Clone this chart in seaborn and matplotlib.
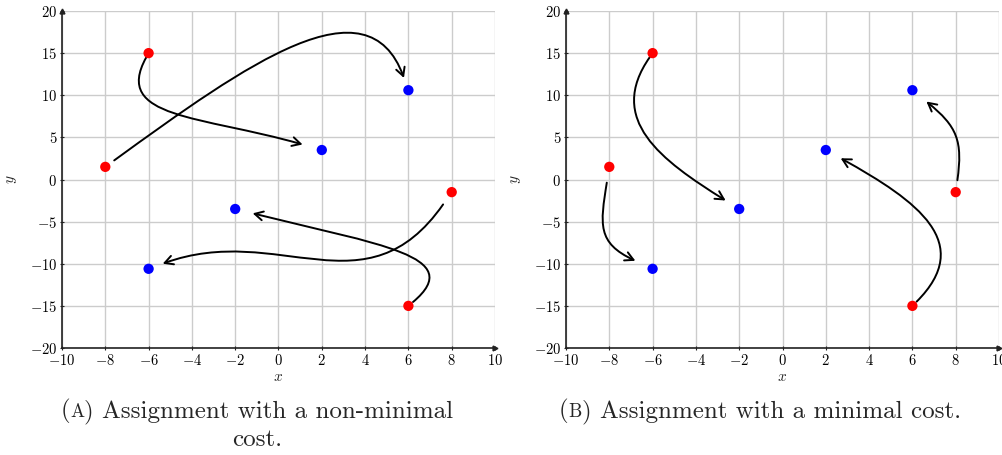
import numpy as np
import matplotlib
matplotlib.use("Agg")
import matplotlib.pyplot as plt
import seaborn as sns
import pandas as pd
from matplotlib.path import Path
from matplotlib.patches import FancyArrowPatch
from matplotlib.ticker import FuncFormatter, MultipleLocator
from matplotlib.offsetbox import TextArea, HPacker, AnchoredOffsetbox

# ---- data ----
red_x = [-8, -6, 6, 8]
red_y = [1.5, 15, -15, -1.5]
blue_x = [-6, -2, 2, 6]
blue_y = [-10.6, -3.5, 3.5, 10.6]
# assignment: (red index, blue index)
assign_a = [(0, 3), (1, 2), (3, 0), (2, 1)]
assign_b = [(0, 0), (1, 1), (2, 2), (3, 3)]
# curve styles like TikZ "to[out,in,looseness]": (out, in, loose_out, loose_in, gap_start, gap_end)
style_a = [(36, 110, 1.4, 0.9, 11, 13),
           (241, 164, 1.0, 1.5, 5, 20),
           (235, 20, 1.2, 1.1, 15, 15),
           (40, -14, 1.0, 1.8, 6, 18)]
style_b = [(261, 155, 1.3, 1.3, 16, 19),
           (235, 148, 1.2, 1.2, 5, 16),
           (45, -29, 1.3, 1.4, 6, 17),
           (82, -39, 1.2, 1.2, 12, 18)]
caption_a = ["Assignment with a non-minimal", "cost."]
caption_b = ["Assignment with a minimal cost."]

sns.set_theme(style="white")
plt.rcParams["mathtext.fontset"] = "cm"
plt.rcParams["font.family"] = ["cmr10", "DejaVu Serif"]
plt.rcParams["axes.formatter.use_mathtext"] = True

W, H = 1003, 455
fig = plt.figure(figsize=(W / 100, H / 100), dpi=100)

def make_ax(x0, x1):
    y_top, y_bot = 11, 348
    return fig.add_axes([x0 / W, (H - y_bot) / H, (x1 - x0) / W, (y_bot - y_top) / H])

axes = [make_ax(62, 495), make_ax(566, 999)]

fmt = FuncFormatter(lambda v, p: f"${int(round(v))}$")

def draw_curve(ax, p, q, out_a, in_a, lo, li, gs, ge):
    P = ax.transData.transform(p)
    Q = ax.transData.transform(q)
    uo = np.array([np.cos(np.radians(out_a)), np.sin(np.radians(out_a))])
    ui = np.array([np.cos(np.radians(in_a)), np.sin(np.radians(in_a))])
    S = P + gs * uo
    E = Q + ge * ui
    d = np.linalg.norm(E - S) * 0.3915
    C1 = S + d * lo * uo
    C2 = E + d * li * ui
    inv = ax.transData.inverted()
    verts = inv.transform(np.array([S, C1, C2, E]))
    path = Path(verts, [Path.MOVETO, Path.CURVE4, Path.CURVE4, Path.CURVE4])
    arr = FancyArrowPatch(path=path, arrowstyle="->,head_length=6,head_width=3.2",
                          color="black", lw=1.4, zorder=3)
    ax.add_patch(arr)

pts = pd.DataFrame({
    "x": red_x + blue_x,
    "y": red_y + blue_y,
    "kind": ["red"] * len(red_x) + ["blue"] * len(blue_x),
})

for ax, assign, style in [(axes[0], assign_a, style_a), (axes[1], assign_b, style_b)]:
    ax.set_xlim(-10, 10)
    ax.set_ylim(-20, 20)
    ax.xaxis.set_major_locator(MultipleLocator(2))
    ax.yaxis.set_major_locator(MultipleLocator(5))
    ax.xaxis.set_major_formatter(fmt)
    ax.yaxis.set_major_formatter(fmt)
    ax.grid(True, color="#cccccc", lw=1.0)
    ax.set_axisbelow(True)
    for s in ["top", "right"]:
        ax.spines[s].set_visible(False)
    for s in ["left", "bottom"]:
        ax.spines[s].set_color("#222222")
        ax.spines[s].set_linewidth(1.2)
    ax.tick_params(axis="both", labelsize=10.5, length=3, width=0.8, direction="inout",
                   colors="#222222", pad=2, left=True, bottom=True)
    ax.tick_params(axis="both", labelcolor="black")
    ax.plot(1, 0, marker=">", color="#222222", ms=3.5, transform=ax.transAxes, clip_on=False)
    ax.plot(0, 1, marker="^", color="#222222", ms=3.5, transform=ax.transAxes, clip_on=False)
    sns.scatterplot(data=pts, x="x", y="y", hue="kind", palette={"red": "#ff0000", "blue": "#0000ff"},
                    s=55, edgecolor="none", legend=False, ax=ax, zorder=4)
    ax.set_xlabel("$x$", fontsize=11, labelpad=2)
    ax.set_ylabel("$y$", fontsize=11, labelpad=8)
    for (ri, bi), st in zip(assign, style):
        draw_curve(ax, (red_x[ri], red_y[ri]), (blue_x[bi], blue_y[bi]), *st)

def caption(xc, yc, letter, lines):
    big = dict(fontsize=18, family="cmr10")
    small = dict(fontsize=13.5, family="cmr10")
    parts = [TextArea("(", textprops=big), TextArea(letter, textprops=small),
             TextArea(") " + lines[0], textprops=big)]
    box = HPacker(children=parts, align="baseline", pad=0, sep=0)
    ab = AnchoredOffsetbox(loc="center", child=box, pad=0, frameon=False,
                           bbox_to_anchor=(xc / W, 1 - yc / H), bbox_transform=fig.transFigure)
    fig.add_artist(ab)
    for i, ln in enumerate(lines[1:]):
        fig.text(xc / W, 1 - (yc + 29 * (i + 1)) / H, ln, ha="center", va="center",
                 fontsize=18, family="cmr10")

caption(257, 411, "A", caption_a)
caption(760, 411, "B", caption_b)

fig.savefig("out.png", dpi=100)
